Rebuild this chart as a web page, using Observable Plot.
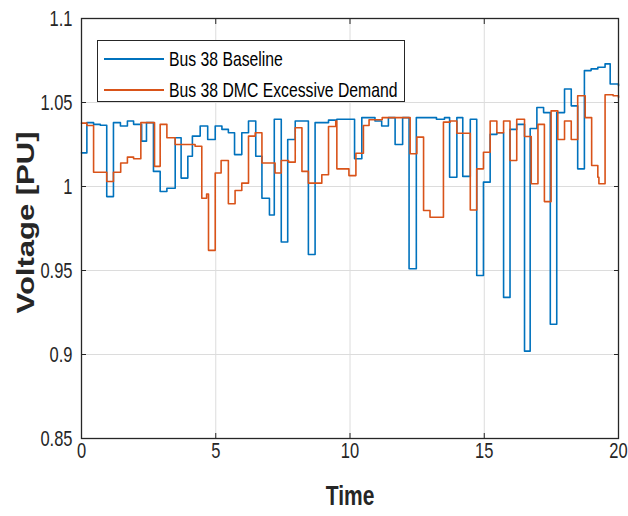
<!DOCTYPE html>
<html><head><meta charset="utf-8">
<script src="https://cdn.jsdelivr.net/npm/d3@7"></script>
<script src="https://cdn.jsdelivr.net/npm/@observablehq/plot@0.6"></script>
<style>
body{margin:0;background:#fff;}
#wrap{position:relative;width:628px;height:516px;}
.legend{position:absolute;left:97px;top:40px;width:306px;height:60px;border:1px solid #262626;background:#fff;
 font-family:"Liberation Sans",Arial,sans-serif;font-size:21px;color:#000;}
.row{position:absolute;left:6px;height:22px;display:flex;align-items:center;white-space:nowrap;}
.sw{width:60px;height:0;border-top:2px solid;margin-right:5px;}
.lt{display:inline-block;transform:scaleX(0.75);transform-origin:left center;}
</style>
</head><body>
<div id="wrap"></div>
<script>
const xTicks = [0, 5, 10, 15, 20];
const yTicks = [0.85, 0.9, 0.95, 1, 1.05, 1.1];
const yTickLabels = ["0.85", "0.9", "0.95", "1", "1.05", "1.1"];
const seriesNames = ["Bus 38 Baseline", "Bus 38 DMC Excessive Demand"];
const seriesColors = ["#0072BD", "#D95319"];

const baseTime = [0, 0.2, 0.45, 0.7, 0.94, 1.19, 1.45, 1.71, 1.94, 2.24, 2.42, 2.68, 2.93, 3.18, 3.49, 3.71, 3.96, 4.13, 4.42, 4.70, 4.98, 5.23, 5.47, 5.70, 5.97, 6.22, 6.49, 6.72, 7.0, 7.18, 7.44, 7.68, 7.96, 8.45, 8.70, 9.20, 9.51, 10.17, 10.44, 10.93, 11.18, 11.43, 11.68, 11.96, 12.20, 12.47, 13.22, 13.52, 13.71, 13.98, 14.20, 14.48, 14.72, 14.97, 15.22, 15.47, 15.72, 15.96, 16.21, 16.50, 16.71, 16.96, 17.21, 17.46, 17.70, 17.99, 18.24, 18.48, 18.73, 18.98, 19.23, 19.50, 19.69, 20];
const baseVolt = [1.020, 1.038, 1.037, 1.0365, 0.994, 1.038, 1.036, 1.039, 1.037, 1.027, 1.038, 1.009, 0.997, 0.999, 1.029, 1.005, 1.018, 1.030, 1.036, 1.028, 1.036, 1.034, 1.032, 1.019, 1.032, 1.039, 1.018, 0.993, 0.983, 1.040, 0.967, 1.028, 1.039, 0.9595, 1.038, 1.0395, 1.040, 1.0165, 1.041, 1.039, 1.036, 1.041, 1.025, 1.041, 0.951, 1.041, 1.040, 1.041, 1.0055, 1.041, 1.006, 1.040, 0.947, 1.0026, 1.031, 1.032, 0.934, 1.034, 1.037, 0.902, 1.0345, 1.047, 1.044, 0.918, 1.044, 1.058, 1.048, 1.0105, 1.069, 1.070, 1.071, 1.073, 1.061, 1.060];

const dmcTime = [0, 0.2, 0.45, 0.94, 1.19, 1.46, 1.71, 1.94, 2.21, 2.72, 2.93, 3.18, 3.49, 4.23, 4.48, 4.66, 4.73, 4.98, 5.20, 5.47, 5.72, 5.97, 6.22, 6.47, 6.72, 7.21, 7.44, 7.71, 7.96, 8.21, 8.45, 8.95, 9.20, 9.47, 9.51, 9.96, 10.22, 10.50, 10.71, 11.20, 12.24, 12.49, 12.74, 12.98, 13.48, 13.73, 13.98, 14.48, 14.72, 14.97, 15.22, 15.47, 15.72, 15.96, 16.21, 16.50, 16.75, 17.0, 17.24, 17.49, 17.74, 17.99, 18.24, 18.48, 18.76, 19.0, 19.23, 19.27, 19.5, 19.8, 20];
const dmcVolt = [1.0377, 1.0363, 1.0085, 1.003, 1.0085, 1.014, 1.0175, 1.0165, 1.038, 1.012, 1.037, 1.029, 1.025, 1.024, 0.993, 0.9955, 0.962, 1.008, 1.0155, 0.9897, 0.9976, 1.002, 1.030, 1.032, 1.014, 1.008, 1.0155, 1.0145, 1.035, 1.009, 1.002, 1.007, 1.0357, 1.039, 1.0105, 1.0065, 1.0198, 1.0363, 1.0397, 1.041, 1.0195, 1.0294, 0.9857, 0.9817, 1.0383, 1.039, 1.0317, 0.986, 1.0105, 1.0204, 1.039, 1.032, 1.039, 1.0155, 1.040, 1.0298, 1.0016, 1.037, 0.991, 1.045, 1.028, 1.039, 1.028, 1.054, 1.041, 1.0125, 1.0055, 1.0016, 1.0546, 1.054, 1.053];

const base = baseTime.map((t, i) => ({t, v: baseVolt[i]}));
const dmc = dmcTime.map((t, i) => ({t, v: dmcVolt[i]}));

const font = '"Liberation Sans",Arial,sans-serif';
const ink = "#262626";

const chart = Plot.plot({
  width: 628, height: 516,
  marginLeft: 81, marginRight: 10, marginTop: 18, marginBottom: 78,
  x: {domain: [0, 20]},
  y: {domain: [0.85, 1.1]},
  style: {fontFamily: font, fontSize: "22px", color: ink, background: "#fff"},
  marks: [
    Plot.gridX(xTicks, {stroke: "#dcdcdc", strokeOpacity: 1, strokeWidth: 1}),
    Plot.gridY(yTicks, {stroke: "#dcdcdc", strokeOpacity: 1, strokeWidth: 1}),
    Plot.line(base, {x: "t", y: "v", curve: "step-after", stroke: seriesColors[0], strokeWidth: 1.6}),
    Plot.line(dmc, {x: "t", y: "v", curve: "step-after", stroke: seriesColors[1], strokeWidth: 1.6}),
    Plot.frame({stroke: ink, strokeWidth: 1.3}),
    Plot.axisX(xTicks, {anchor: "bottom", tickSize: 5, dy: -5, tickFormat: () => "", stroke: ink, label: null}),
    Plot.axisX(xTicks, {anchor: "top", tickSize: 5, dy: 5, tickFormat: () => "", stroke: ink, label: null}),
    Plot.axisY(yTicks, {anchor: "left", tickSize: 5, dx: 5, tickFormat: () => "", stroke: ink, label: null}),
    Plot.axisY(yTicks, {anchor: "right", tickSize: 5, dx: -5, tickFormat: () => "", stroke: ink, label: null}),
    Plot.axisX(xTicks, {anchor: "bottom", tickSize: 0, tickPadding: 4, label: null, fill: ink}),
    Plot.axisY(yTicks, {anchor: "left", tickSize: 0, tickPadding: 9, label: null, fill: ink,
      tickFormat: d => yTickLabels[yTicks.indexOf(d)]}),
    Plot.text(["Time"], {frameAnchor: "bottom", dy: 66, fontSize: 28, fontWeight: "bold", fill: ink}),
    Plot.text(["Voltage [PU]"], {frameAnchor: "left", textAnchor: "middle", dx: -55, dy: -6, rotate: -90,
      fontSize: 31, fontWeight: "bold", fill: ink})
  ]
});

// the reference figure is horizontally compressed: squeeze glyphs along screen x
d3.select(chart).selectAll("text").each(function() {
  const el = d3.select(this);
  const isY = this.textContent === "Voltage [PU]";
  const tr = el.attr("transform");
  if (tr) {
    el.attr("transform", tr + (isY ? " scale(1,0.75)" : " scale(0.75,1)"));
  } else {
    const x = +el.attr("x") || 0;
    el.attr("transform", `translate(${x},0) scale(0.75,1) translate(${-x},0)`);
  }
});

const wrap = document.getElementById("wrap");
wrap.appendChild(chart);
const leg = document.createElement("div");
leg.className = "legend";
seriesNames.forEach((name, i) => {
  const row = document.createElement("div");
  row.className = "row";
  row.style.top = (7 + i * 31) + "px";
  const sw = document.createElement("div");
  sw.className = "sw";
  sw.style.borderColor = seriesColors[i];
  const tx = document.createElement("span");
  tx.className = "lt";
  tx.textContent = name;
  row.appendChild(sw); row.appendChild(tx);
  leg.appendChild(row);
});
wrap.appendChild(leg);
</script>
</body></html>
